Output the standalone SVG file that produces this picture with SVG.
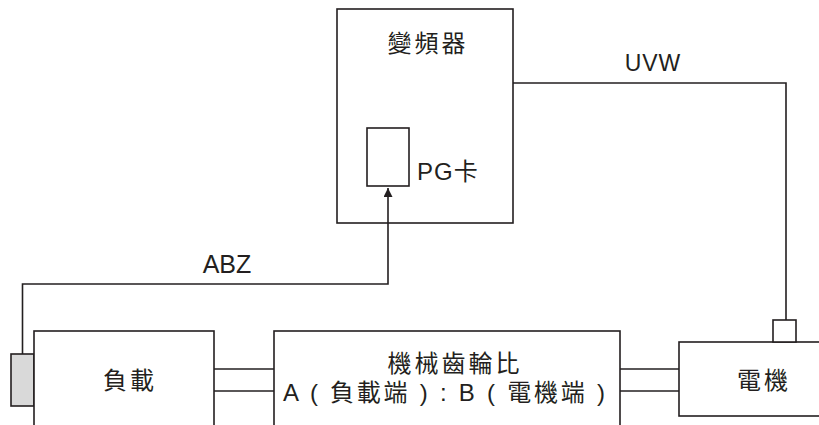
<svg xmlns="http://www.w3.org/2000/svg" width="819" height="425" viewBox="0 0 819 425">
<style>
.box{fill:#fff;stroke:#231f20;stroke-width:1.6}
.ln{fill:none;stroke:#231f20;stroke-width:1.6}
.t{font-family:"Liberation Sans","Noto Sans CJK TC",sans-serif;fill:#231f20}
.c{font-family:"Noto Sans CJK TC","Liberation Sans",sans-serif;fill:#231f20;font-size:24px;letter-spacing:3px}
</style>
<defs>
<marker id="ah" viewBox="0 0 10 10" refX="10" refY="5" markerWidth="9" markerHeight="9" markerUnits="userSpaceOnUse" orient="auto">
<path d="M0,0 L10,5 L0,10 z" fill="#231f20"/>
</marker>
</defs>
<rect width="819" height="425" fill="#fff"/>
<g id="inverter">
<rect class="box" x="337" y="9" width="176" height="214"/>
<text class="c" x="428" y="52" text-anchor="middle">變頻器</text>
</g>
<g id="pgcard">
<rect class="box" x="367" y="128" width="42" height="58"/>
<text class="t" x="417" y="180" font-size="24" letter-spacing="1">PG卡</text>
</g>
<g id="encoder">
<rect x="11" y="354" width="23" height="52" fill="#d9d9d9" stroke="#231f20" stroke-width="1.6"/>
</g>
<g id="load">
<rect class="box" x="34" y="331" width="180" height="110"/>
<text class="c" x="130" y="389" text-anchor="middle">負載</text>
</g>
<g id="gear">
<rect class="box" x="274" y="331" width="346" height="110"/>
<text class="c" x="455" y="372" text-anchor="middle">機械齒輪比</text>
<text class="t" x="283" y="401" font-size="24" textLength="322" lengthAdjust="spacing">A ( 負載端 ) : B ( 電機端 )</text>
</g>
<g id="motor">
<rect class="box" x="679" y="342" width="160" height="74"/>
<rect class="box" x="773" y="320" width="23" height="22"/>
<text class="c" x="764" y="389" text-anchor="middle">電機</text>
</g>
<g id="connectors">
<polyline class="ln" points="513,83 786,83 786,320"/>
<polyline class="ln" points="22.5,354 22.5,284 388,284 388,188" marker-end="url(#ah)"/>
<line class="ln" x1="214" y1="369" x2="274" y2="369"/>
<line class="ln" x1="214" y1="391" x2="274" y2="391"/>
<line class="ln" x1="620" y1="369" x2="679" y2="369"/>
<line class="ln" x1="620" y1="391" x2="679" y2="391"/>
<text class="t" x="227" y="273" font-size="25" text-anchor="middle">ABZ</text>
<text class="t" x="653" y="71" font-size="23" text-anchor="middle" letter-spacing="1">UVW</text>
</g>
</svg>
